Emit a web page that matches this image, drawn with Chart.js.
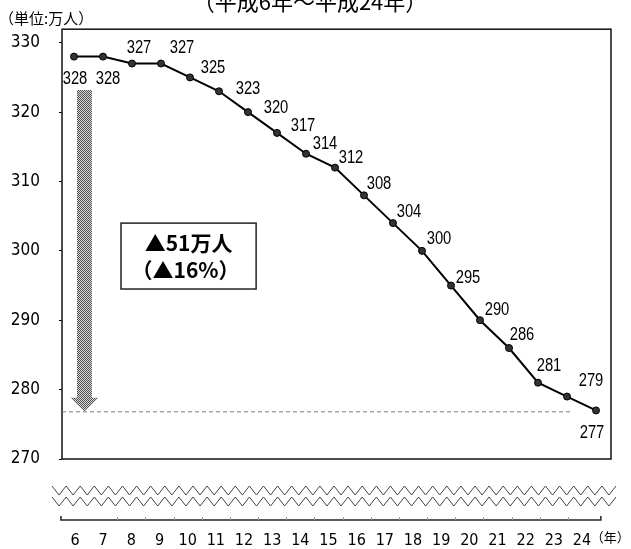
<!DOCTYPE html>
<html lang="ja">
<head>
<meta charset="utf-8">
<title>就業者数の推移</title>
<script src="https://cdn.jsdelivr.net/npm/chart.js@4.4.1/dist/chart.umd.min.js"></script>
<style>
  html, body { margin: 0; padding: 0; background: #fff; }
  #chart { display: block; }
</style>
</head>
<body>
<canvas id="chart" width="631" height="549"></canvas>
<script>
// 平成の年 と 人数（万人）
const years = [6, 7, 8, 9, 10, 11, 12, 13, 14, 15, 16, 17, 18, 19, 20, 21, 22, 23, 24];
const persons = [328, 328, 327, 327, 325, 323, 320, 317, 314, 312, 308, 304, 300, 295, 290, 286, 281, 279, 277];
const yTicks = [270, 280, 290, 300, 310, 320, 330];

const titleText = '（平成6年～平成24年）';
const unitText = '（単位:万人）';
const yearText = '（年）';
const noteLines = ['▲51万人', '（▲16%）'];

// label offsets from each point (px)
const labelOffsets = [[1, 22], [5, 22], [7, -16], [21, -16], [23, -9], [29, -2], [28, -4], [26, -7],
  [19, -10], [16, -10], [15, -11], [16, -11], [17, -12], [17, -8], [17, -10], [13, -13], [11, -17], [24, -16], [-4, 23]];

const NARROW = '"Liberation Sans Narrow", "DejaVu Sans Condensed", "Liberation Sans", sans-serif';
const CJK = '"Noto Sans CJK JP", "Noto Sans", sans-serif';

// stippled grey fill for the arrow
const stippleCanvas = (function () {
    const c = document.createElement('canvas');
    c.width = 2; c.height = 2;
    const g = c.getContext('2d');
    g.fillStyle = '#d4d4d4';
    g.fillRect(0, 0, 2, 2);
    g.fillStyle = '#555';
    g.fillRect(0, 0, 1, 1);
    g.fillRect(1, 1, 1, 1);
    return c;
})();

function zigzag(ctx, x0, x1, yTop, yBot, period) {
    ctx.beginPath();
    ctx.moveTo(x0, yTop);
    let k = 1;
    for (let x = x0 + period / 2; x <= x1 + 0.01; x += period / 2, k++) {
        ctx.lineTo(x, k % 2 ? yBot : yTop);
    }
    ctx.stroke();
}

// narrow-looking numbers: squeeze horizontally
function narrowText(ctx, txt, x, y, squeeze) {
    ctx.save();
    ctx.translate(x, y);
    ctx.scale(squeeze, 1);
    ctx.fillText(txt, 0, 0);
    ctx.restore();
}

const decorPlugin = {
    id: 'decor',
    beforeDatasetsDraw(chart) {
        const ctx = chart.ctx;
        const area = chart.chartArea;
        const xs = chart.scales.x;
        const ys = chart.scales.y;
        ctx.save();

        // frame
        ctx.strokeStyle = '#111';
        ctx.lineWidth = 1.5;
        ctx.strokeRect(area.left, area.top, area.right - area.left, area.bottom - area.top);

        // dashed reference line at the last value
        const levelY = ys.getPixelForValue(276.8);
        ctx.strokeStyle = '#777';
        ctx.lineWidth = 1;
        ctx.setLineDash([4, 3]);
        ctx.beginPath();
        ctx.moveTo(area.left, levelY);
        ctx.lineTo(xs.getPixelForValue(23.2), levelY);
        ctx.stroke();
        ctx.setLineDash([]);

        // stippled down arrow
        const ax = xs.getPixelForValue(6.36);
        const aTop = ys.getPixelForValue(323.2);
        const tip = levelY;
        ctx.fillStyle = ctx.createPattern(stippleCanvas, 'repeat');
        ctx.beginPath();
        ctx.moveTo(ax - 7.5, aTop);
        ctx.lineTo(ax + 7.5, aTop);
        ctx.lineTo(ax + 7.5, tip - 14);
        ctx.lineTo(ax + 14, tip - 14);
        ctx.lineTo(ax, tip);
        ctx.lineTo(ax - 14, tip - 14);
        ctx.lineTo(ax - 7.5, tip - 14);
        ctx.closePath();
        ctx.fill();

        // note box
        const bx0 = xs.getPixelForValue(7.62), bx1 = xs.getPixelForValue(12.28);
        const by0 = ys.getPixelForValue(304.0), by1 = ys.getPixelForValue(294.5);
        ctx.fillStyle = '#fff';
        ctx.fillRect(bx0, by0, bx1 - bx0, by1 - by0);
        ctx.strokeStyle = '#222';
        ctx.lineWidth = 1.5;
        ctx.strokeRect(bx0, by0, bx1 - bx0, by1 - by0);
        ctx.fillStyle = '#000';
        ctx.font = 'bold 21px ' + CJK;
        ctx.textAlign = 'center';
        ctx.textBaseline = 'middle';
        ctx.fillText(noteLines[0], (bx0 + bx1) / 2, by0 + 20);
        ctx.fillText(noteLines[1], (bx0 + bx1) / 2 - 3, by0 + 47);

        ctx.restore();
    },
    afterDraw(chart) {
        const ctx = chart.ctx;
        const area = chart.chartArea;
        const x2 = chart.scales.x2;
        const meta = chart.getDatasetMeta(0);
        ctx.save();

        // value labels
        ctx.fillStyle = '#000';
        ctx.font = '18px "Liberation Sans", sans-serif';
        ctx.textAlign = 'center';
        ctx.textBaseline = 'middle';
        meta.data.forEach((pt, i) => {
            const off = labelOffsets[i];
            narrowText(ctx, String(persons[i]), pt.x + off[0], pt.y + off[1], 0.82);
        });

        // axis break zigzags
        ctx.strokeStyle = '#444';
        ctx.lineWidth = 1;
        zigzag(ctx, area.left - 10, area.right + 5, area.bottom + 27, area.bottom + 36, 14.1);
        zigzag(ctx, area.left - 10, area.right + 5, area.bottom + 38, area.bottom + 47, 14.1);

        // bottom year axis line
        const axY = area.bottom + 61;
        const lx = x2.getPixelForValue(5.5), rx = x2.getPixelForValue(24.67);
        ctx.strokeStyle = '#222';
        ctx.lineWidth = 1.5;
        ctx.beginPath();
        ctx.moveTo(lx, axY - 4);
        ctx.lineTo(lx, axY);
        ctx.lineTo(rx, axY);
        ctx.lineTo(rx, axY - 4);
        ctx.stroke();
        ctx.strokeStyle = '#999';
        ctx.lineWidth = 1;
        for (let v = 7.5; v < 24; v += 1) {
            const tx = Math.round(x2.getPixelForValue(v)) + 0.5;
            ctx.beginPath();
            ctx.moveTo(tx, axY - 3);
            ctx.lineTo(tx, axY);
            ctx.stroke();
        }

        // texts
        ctx.fillStyle = '#000';
        ctx.font = '15px ' + CJK;
        ctx.textAlign = 'left';
        ctx.textBaseline = 'middle';
        ctx.fillText(unitText, -1, 18);
        ctx.font = '13px ' + CJK;
        ctx.fillText(yearText, rx - 10, axY + 17);

        ctx.font = '22px ' + CJK;
        ctx.textAlign = 'center';
        ctx.textBaseline = 'alphabetic';
        ctx.fillText(titleText, 310, 10);

        ctx.restore();
    }
};

new Chart(document.getElementById('chart'), {
    type: 'line',
    data: {
        datasets: [{
            data: years.map((yr, i) => ({ x: yr, y: persons[i] })),
            borderColor: '#000',
            borderWidth: 2,
            pointRadius: 3.5,
            pointBackgroundColor: '#333',
            pointBorderColor: '#000',
            pointBorderWidth: 1,
            tension: 0,
            clip: false
        }]
    },
    options: {
        responsive: false,
        animation: false,
        devicePixelRatio: 1,
        layout: { padding: { left: 0, right: 20, top: 29, bottom: 0 } },
        plugins: {
            legend: { display: false },
            tooltip: { enabled: false },
            title: { display: false }
        },
        scales: {
            x: {
                type: 'linear',
                display: false,
                min: 5.586,
                max: 24.517
            },
            x2: {
                type: 'linear',
                position: 'bottom',
                min: 5.538,
                max: 25.03,
                afterBuildTicks: s => { s.ticks = years.map(v => ({ value: v })); },
                afterFit: s => { s.height = 90; },
                // hidden tick marks only push the labels down below the axis break
                grid: { display: false, drawTicks: true, tickLength: 70 },
                border: { display: false },
                ticks: {
                    padding: 2,
                    autoSkip: false,
                    maxRotation: 0,
                    color: '#000',
                    font: { family: NARROW, size: 16 },
                    callback: v => String(v)
                }
            },
            y: {
                type: 'linear',
                min: 270,
                max: 331.95,
                afterBuildTicks: s => { s.ticks = yTicks.map(v => ({ value: v })); },
                afterFit: s => { s.width = 62; },
                grid: { drawOnChartArea: false, drawTicks: true, tickLength: 3, color: '#000' },
                border: { display: false },
                ticks: {
                    padding: 19,
                    color: '#000',
                    font: { family: NARROW, size: 17 }
                }
            }
        }
    },
    plugins: [decorPlugin]
});
</script>
</body>
</html>
